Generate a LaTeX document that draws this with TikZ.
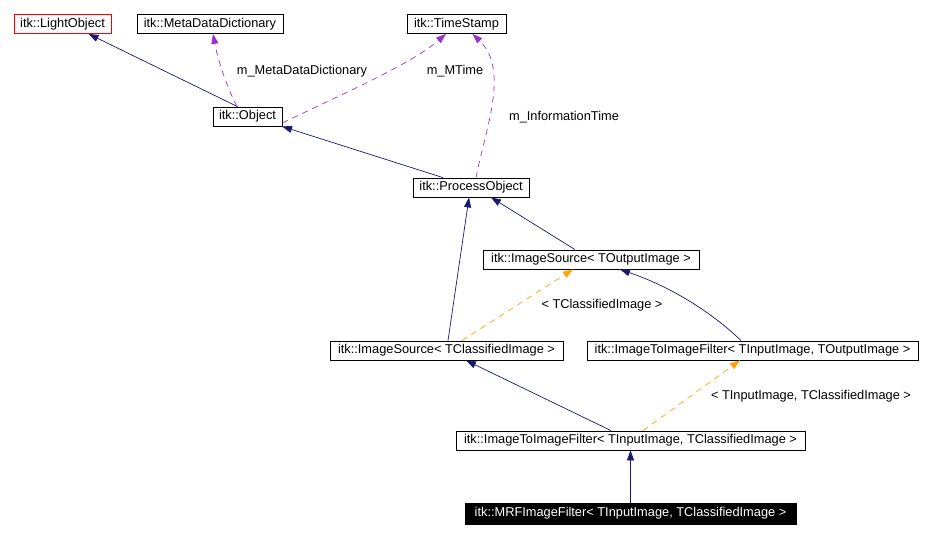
\documentclass[tikz,border=0pt]{standalone}
\usepackage{fontspec}
\setmainfont{Liberation Sans}
\usetikzlibrary{arrows.meta}
\definecolor{inhblue}{HTML}{191970}
\definecolor{usepurple}{HTML}{9A32CD}
\definecolor{tplorange}{HTML}{FFA500}
\begin{document}
\begin{tikzpicture}[x=1pt,y=-1pt,
  cls/.style={draw=black,line width=0.8pt,fill=white,inner sep=0pt,minimum height=19pt,font=\fontsize{12.8}{14}\selectfont},
  inh/.style={draw=inhblue,line width=0.7pt,-{Triangle[length=10pt,width=7pt]}},
  usedby/.style={draw=usepurple,line width=0.7pt,dashed,dash pattern=on 6pt off 5pt,-{Triangle[length=10pt,width=7pt]}},
  tpl/.style={draw=tplorange,line width=0.7pt,dashed,dash pattern=on 6pt off 5pt,-{Triangle[length=10pt,width=7pt]}},
  lbl/.style={font=\fontsize{12.8}{14}\selectfont,inner sep=0pt}]
\useasboundingbox (0,0) rectangle (933,537);
\fill[white] (0,0) rectangle (933,537);
% nodes
\node[cls,draw=red,minimum width=97pt] (light) at (62.5,24) {itk::LightObject};
\node[cls,minimum width=146pt] (mdd) at (210,24) {itk::MetaDataDictionary};
\node[cls,minimum width=99pt] (ts) at (456.5,24) {itk::TimeStamp};
\node[cls,minimum width=69pt] (obj) at (247.5,116.5) {itk::Object};
\node[cls,minimum width=116pt] (po) at (471,187.5) {itk::ProcessObject};
\node[cls,minimum width=216pt] (isout) at (591,259.5) {itk::ImageSource< TOutputImage >};
\node[cls,minimum width=233pt] (iscls) at (446.5,350.5) {itk::ImageSource< TClassifiedImage >};
\node[cls,minimum width=331pt] (iifout) at (752.5,350.5) {itk::ImageToImageFilter< TInputImage, TOutputImage >};
\node[cls,minimum width=349pt] (iifcls) at (630.5,440.5) {itk::ImageToImageFilter< TInputImage, TClassifiedImage >};
\node[cls,fill=black,text=white,minimum width=331pt,minimum height=21pt] (mrf) at (630.5,513.5) {itk::MRFImageFilter< TInputImage, TClassifiedImage >};
% inheritance
\draw[inh] ([xshift=-10pt]obj.north) -- ([xshift=26pt]light.south);
\draw[inh] ([xshift=-28pt]po.north) -- ([xshift=34.5pt]obj.south);
\draw[inh] ([xshift=-16pt]isout.north) -- ([xshift=20pt]po.south);
\draw[inh] ([xshift=1.5pt]iscls.north) -- ([xshift=-2pt]po.south);
\draw[inh] ([xshift=-11.5pt]iifout.north) .. controls (720,320) and (680,290) .. ([xshift=29pt]isout.south);
\draw[inh] ([xshift=-19.5pt]iifcls.north) -- ([xshift=19.5pt]iscls.south);
\draw[inh] (mrf.north) -- (iifcls.south);
% usage
\draw[usedby] ([xshift=-10.5pt]obj.north) .. controls (226,85) and (218,60) .. ([xshift=3pt]mdd.south);
\draw[usedby] ([yshift=-6.5pt]obj.east) .. controls (340,95) and (410,65) .. ([xshift=-10.5pt]ts.south);
\draw[usedby] ([xshift=5pt]po.north) .. controls (485,130) and (510,70) .. ([xshift=16pt]ts.south);
\node[lbl] (l1) at (302,71) {m\_MetaDataDictionary};
\node[lbl] (l2) at (455,71) {m\_MTime};
\node[lbl] (l3) at (564,117) {m\_InformationTime};
% template
\draw[tpl] ([xshift=15.5pt]iscls.north) -- ([xshift=-18pt]isout.south);
\draw[tpl] ([xshift=12.5pt]iifcls.north) -- ([xshift=-12.5pt]iifout.south);
\node[lbl] (l4) at (602,305) {< TClassifiedImage >};
\node[lbl] (l5) at (811,396) {< TInputImage, TClassifiedImage >};
\end{tikzpicture}
\end{document}
